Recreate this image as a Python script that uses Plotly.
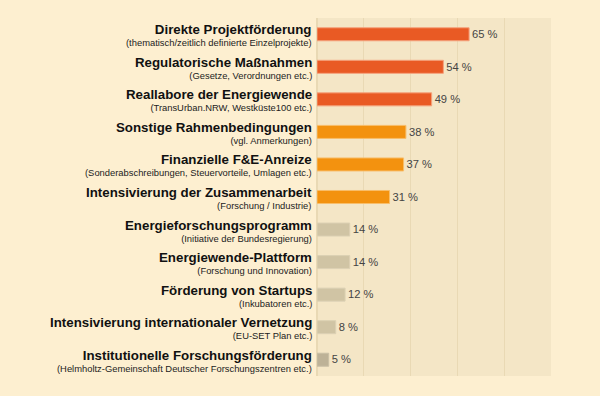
import plotly.graph_objects as go

titles = [
    "Direkte Projektförderung",
    "Regulatorische Maßnahmen",
    "Reallabore der Energiewende",
    "Sonstige Rahmenbedingungen",
    "Finanzielle F&E-Anreize",
    "Intensivierung der Zusammenarbeit",
    "Energieforschungsprogramm",
    "Energiewende-Plattform",
    "Förderung von Startups",
    "Intensivierung internationaler Vernetzung",
    "Institutionelle Forschungsförderung",
]
subtitles = [
    "(thematisch/zeitlich definierte Einzelprojekte)",
    "(Gesetze, Verordnungen etc.)",
    "(TransUrban.NRW, Westküste100 etc.)",
    "(vgl. Anmerkungen)",
    "(Sonderabschreibungen, Steuervorteile, Umlagen etc.)",
    "(Forschung / Industrie)",
    "(Initiative der Bundesregierung)",
    "(Forschung und Innovation)",
    "(Inkubatoren etc.)",
    "(EU-SET Plan etc.)",
    "(Helmholtz-Gemeinschaft Deutscher Forschungszentren etc.)",
]
values = [65, 54, 49, 38, 37, 31, 14, 14, 12, 8, 5]
bar_colors = ["#E95A24"] * 3 + ["#F3920F"] * 3 + ["#D0C4A4"] * 4 + ["#BDB297"]
line_colors = ["#F5A27C"] * 3 + ["#F8BE6A"] * 3 + ["#DCD1B4"] * 4 + ["#C9BFA6"]

fig = go.Figure(go.Bar(
    x=values,
    y=titles,
    orientation="h",
    width=0.4,
    marker=dict(color=bar_colors, line=dict(color=line_colors, width=1)),
    text=[f"{v} %" for v in values],
    textposition="outside",
    textfont=dict(family="Liberation Sans, Arial", size=12, color="#444444"),
    cliponaxis=False,
    hoverinfo="skip",
))

for t, s in zip(titles, subtitles):
    fig.add_annotation(
        x=0, xref="paper", y=t, yref="y",
        text=f"<span style='font-size:13.3px;color:#111111'><b>{t}</b></span><br>{s}",
        showarrow=False, xanchor="right", yanchor="middle", align="right",
        xshift=-3, yshift=-1,
        font=dict(family="Liberation Sans, Arial", size=9.4, color="#222222"))

fig.update_layout(
    width=600, height=396,
    margin=dict(l=317, r=49, t=18, b=20),
    paper_bgcolor="#FDEFD0",
    plot_bgcolor="#F4E6C6",
    showlegend=False,
    bargap=0.6,
    xaxis=dict(range=[0, 100], dtick=20, showticklabels=False, showgrid=True,
               gridcolor="#E9D9B4", gridwidth=1, zeroline=True, zerolinecolor="#E9D9B4",
               fixedrange=True),
    yaxis=dict(autorange="reversed", showticklabels=False, showgrid=False,
               fixedrange=True),
)

fig.write_html(
    "out.html",
    config={"displayModeBar": False},
    post_script="document.body.style.margin='0';document.body.style.background='#FDEFD0';",
)
